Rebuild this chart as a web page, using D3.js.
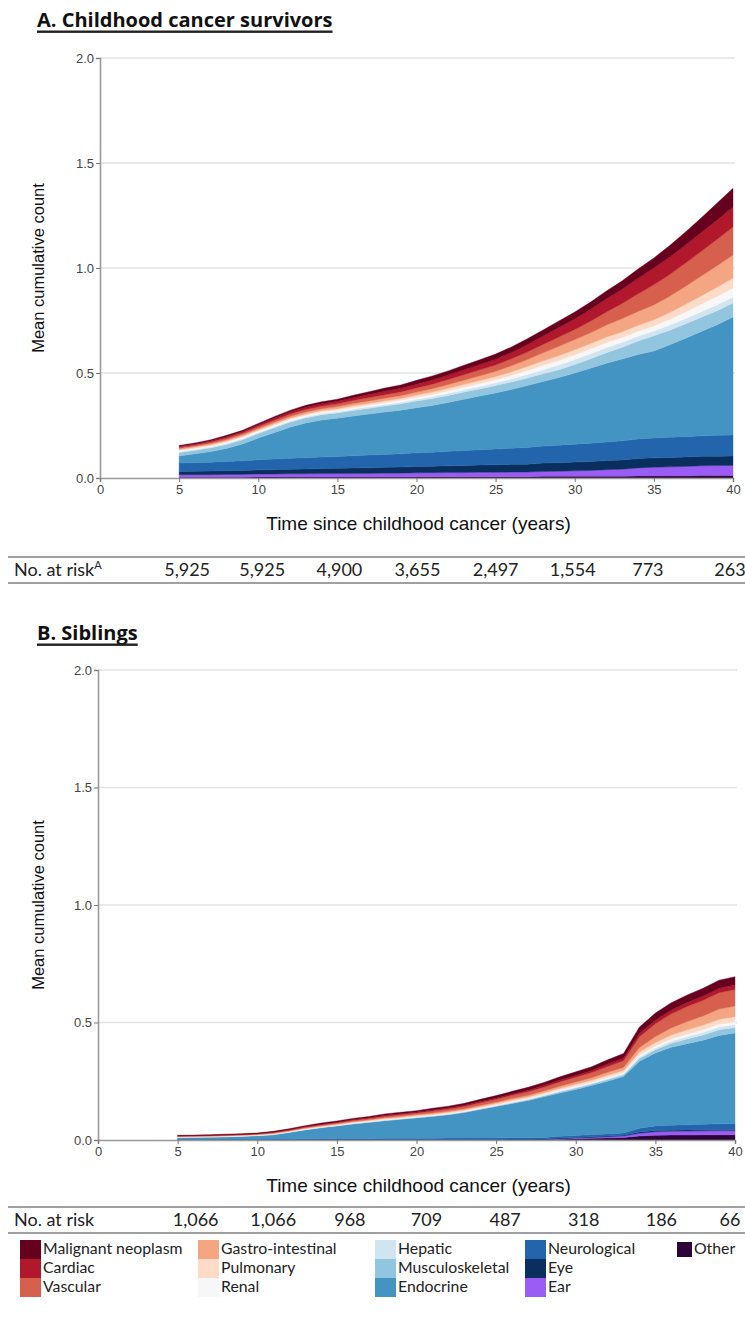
<!DOCTYPE html>
<html>
<head>
<meta charset="utf-8">
<script src="https://cdn.jsdelivr.net/npm/d3@7"></script>
<style>
  body { margin: 0; background: #fff; }
  svg { display: block; }
</style>
</head>
<body>
<svg id="chart" width="745" height="1324"></svg>
<script>
// Follow-up years (x values shared by every series)
const years = [5,6,7,8,9,10,11,12,13,14,15,16,17,18,19,20,21,22,23,24,25,26,27,28,29,30,31,32,33,34,35,36,37,38,39,40];

// Condition categories, stacked from the baseline upwards
const categories = ["Other","Ear","Eye","Neurological","Endocrine","Musculoskeletal","Hepatic","Renal","Pulmonary","Gastro-intestinal","Vascular","Cardiac","Malignant neoplasm"];

const categoryColors = ["#2e0438","#9a5cf4","#0a2f5e","#2265ad","#4393c3","#92c5de","#d1e5f0","#f7f7f7","#fddbc7","#f4a582","#d6604d","#b2182b","#67001f"];

const xTicks = [0,5,10,15,20,25,30,35,40];
const yTicks = [0,0.5,1.0,1.5,2.0];
const riskYears = [5,10,15,20,25,30,35,40];

// Survivors: mean cumulative count per category
const survOther     = [.004,.004,.004,.004,.004,.005,.005,.005,.005,.005,.005,.005,.005,.005,.005,.006,.006,.006,.006,.006,.006,.006,.006,.008,.008,.008,.008,.008,.008,.010,.010,.010,.010,.012,.012,.012];
const survEar       = [.012,.012,.012,.013,.013,.014,.014,.015,.015,.016,.016,.017,.017,.018,.018,.019,.019,.020,.020,.021,.021,.022,.022,.023,.024,.026,.028,.031,.034,.038,.041,.043,.045,.046,.047,.048];
const survEye       = [.015,.016,.017,.018,.019,.020,.021,.022,.023,.024,.025,.026,.027,.028,.029,.030,.031,.032,.034,.035,.036,.037,.038,.040,.041,.042,.043,.044,.044,.045,.045,.045,.045,.045,.045,.045];
const survNeuro     = [.040,.041,.042,.044,.046,.048,.050,.052,.054,.055,.056,.058,.060,.061,.063,.065,.067,.069,.071,.073,.075,.077,.079,.081,.083,.085,.087,.089,.091,.093,.095,.096,.097,.098,.099,.100];
const survEndocrine = [.034,.042,.051,.062,.080,.103,.126,.148,.165,.176,.183,.189,.196,.202,.208,.215,.222,.233,.244,.255,.267,.280,.295,.308,.322,.339,.357,.375,.390,.402,.414,.440,.468,.497,.527,.562];
const survMusculo   = [.016,.017,.018,.019,.020,.022,.023,.024,.024,.025,.025,.026,.027,.029,.030,.032,.033,.033,.034,.034,.035,.035,.036,.037,.038,.040,.045,.050,.056,.064,.072,.070,.069,.068,.067,.066];
const survHepatic   = [.004,.004,.004,.005,.005,.005,.005,.006,.006,.006,.006,.007,.007,.007,.008,.008,.009,.010,.011,.012,.013,.015,.017,.019,.022,.024,.024,.024,.023,.023,.023,.024,.025,.026,.028,.029];
const survRenal     = [.006,.006,.006,.006,.007,.007,.007,.007,.007,.007,.007,.008,.008,.009,.009,.010,.011,.012,.013,.014,.015,.017,.019,.021,.022,.023,.023,.024,.024,.024,.024,.028,.032,.036,.040,.043];
const survPulmonary = [.004,.004,.004,.005,.005,.005,.006,.006,.006,.007,.007,.008,.008,.009,.009,.010,.011,.012,.013,.014,.015,.017,.019,.021,.023,.024,.025,.026,.027,.028,.029,.032,.036,.040,.044,.047];
const survGI        = [.005,.005,.006,.006,.007,.007,.008,.008,.009,.009,.010,.011,.012,.012,.013,.014,.016,.018,.020,.023,.025,.029,.033,.038,.044,.048,.052,.057,.062,.066,.071,.078,.086,.094,.102,.110];
const survVascular  = [.006,.006,.007,.008,.008,.009,.010,.011,.012,.012,.013,.014,.016,.017,.018,.020,.022,.024,.026,.028,.030,.033,.036,.040,.044,.048,.055,.063,.072,.084,.096,.103,.111,.118,.126,.133];
const survCardiac   = [.005,.005,.006,.007,.007,.008,.009,.010,.011,.011,.012,.013,.015,.016,.017,.018,.020,.021,.023,.025,.027,.030,.035,.040,.046,.050,.056,.062,.068,.074,.080,.083,.086,.089,.092,.095];
const survMalignant = [.004,.005,.005,.006,.006,.007,.008,.008,.009,.010,.010,.012,.013,.015,.016,.018,.019,.020,.022,.023,.025,.026,.028,.029,.031,.033,.035,.037,.040,.044,.048,.055,.062,.070,.080,.090];

// Siblings: mean cumulative count per category
const sibOther     = [0,0,0,0,0,0,0,0,0,0,0,0,0,0,0,0,0,0,0,0,0,0,0,0,.003,.005,.007,.009,.011,.017,.020,.021,.021,.022,.022,.022];
const sibEar       = [0,0,0,0,0,0,0,0,0,0,0,0,0,0,0,0,0,0,0,0,0,0,0,.001,.002,.003,.004,.005,.006,.012,.015,.016,.017,.017,.018,.018];
const sibEye       = [.001,.001,.001,.001,.001,.001,.001,.001,.002,.002,.002,.002,.002,.002,.002,.002,.002,.002,.002,.002,.002,.003,.003,.003,.003,.003,.003,.003,.003,.005,.005,.005,.005,.005,.005,.005];
const sibNeuro     = [.002,.002,.002,.002,.002,.002,.003,.003,.003,.004,.004,.004,.004,.005,.005,.005,.005,.006,.006,.006,.006,.007,.007,.007,.008,.008,.009,.009,.010,.016,.020,.021,.022,.023,.024,.025];
const sibEndocrine = [.007,.008,.009,.010,.012,.015,.018,.028,.038,.046,.054,.062,.069,.075,.081,.087,.093,.099,.109,.122,.135,.145,.158,.173,.184,.196,.209,.224,.240,.285,.310,.332,.345,.358,.376,.385];
const sibMusculo   = [.001,.001,.001,.001,.001,.001,.001,.001,.001,.001,.001,.001,.001,.001,.001,.002,.002,.002,.002,.002,.002,.003,.003,.004,.005,.006,.006,.007,.007,.012,.014,.017,.020,.022,.024,.024];
const sibHepatic   = [.001,.001,.001,.001,.001,.001,.001,.001,.001,.001,.001,.002,.002,.002,.002,.002,.002,.002,.002,.002,.002,.003,.003,.003,.004,.004,.004,.005,.005,.007,.008,.009,.010,.011,.012,.012];
const sibRenal     = [.001,.001,.001,.001,.001,.001,.001,.001,.001,.001,.001,.002,.002,.002,.002,.002,.002,.002,.002,.002,.002,.003,.003,.003,.004,.004,.004,.005,.005,.007,.008,.009,.010,.011,.012,.012];
const sibPulmonary = [.001,.001,.001,.002,.002,.002,.002,.002,.003,.003,.003,.003,.003,.004,.004,.004,.004,.005,.005,.005,.006,.006,.006,.007,.007,.008,.008,.009,.009,.013,.015,.017,.019,.020,.021,.022];
const sibGI        = [.001,.001,.001,.001,.001,.001,.002,.002,.002,.003,.003,.003,.003,.004,.004,.004,.005,.005,.005,.006,.006,.007,.007,.008,.009,.010,.011,.012,.013,.020,.025,.030,.035,.039,.043,.045];
const sibVascular  = [.002,.002,.002,.002,.002,.002,.003,.003,.004,.004,.005,.005,.006,.006,.007,.007,.008,.009,.010,.011,.012,.013,.015,.016,.018,.020,.022,.025,.028,.045,.055,.060,.064,.067,.070,.070];
const sibCardiac   = [.001,.001,.001,.001,.001,.001,.002,.002,.002,.002,.002,.003,.003,.004,.004,.004,.005,.005,.005,.006,.006,.006,.007,.007,.008,.008,.009,.010,.011,.014,.015,.016,.017,.018,.019,.020];
const sibMalignant = [.002,.002,.002,.003,.003,.003,.003,.004,.004,.005,.005,.005,.005,.006,.006,.006,.007,.007,.008,.009,.010,.011,.012,.013,.014,.015,.016,.018,.020,.028,.030,.031,.032,.033,.034,.035];

// Number at risk at each five-year mark
const survAtRisk = ["5,925","5,925","4,900","3,655","2,497","1,554","773","263"];
const sibAtRisk  = ["1,066","1,066","968","709","487","318","186","66"];

const survSeries = [survOther, survEar, survEye, survNeuro, survEndocrine, survMusculo, survHepatic, survRenal, survPulmonary, survGI, survVascular, survCardiac, survMalignant];
const sibSeries  = [sibOther, sibEar, sibEye, sibNeuro, sibEndocrine, sibMusculo, sibHepatic, sibRenal, sibPulmonary, sibGI, sibVascular, sibCardiac, sibMalignant];

function toRows(series) {
  return years.map((yr, i) => {
    const row = { year: yr };
    categories.forEach((c, j) => { row[c] = series[j][i]; });
    return row;
  });
}

const svg = d3.select("#chart");
const color = d3.scaleOrdinal().domain(categories).range(categoryColors);
const axisFont = "'Liberation Sans', Arial, sans-serif";
const labelFont = "Lato, 'Open Sans', sans-serif";

function drawPanel(o) {
  const g = svg.append("g");

  // Panel heading, bold and underlined
  const title = g.append("text")
    .attr("x", 37).attr("y", o.titleY)
    .attr("font-family", "'Open Sans', sans-serif")
    .attr("font-weight", 700).attr("font-size", 20)
    .attr("fill", "#111").text(o.title);
  const tw = title.node().getComputedTextLength();
  g.append("rect").attr("x", 37).attr("y", o.titleY + 3.5).attr("width", tw).attr("height", 2.4).attr("fill", "#222");

  const x = d3.scaleLinear().domain([0, 40]).range([o.left, o.right]);
  const y = d3.scaleLinear().domain([0, 2]).range([o.bottom, o.top]);

  // Horizontal gridlines
  g.append("g").selectAll("line")
    .data(yTicks.filter(d => d > 0)).join("line")
    .attr("x1", o.left).attr("x2", o.right + 2)
    .attr("y1", d => y(d)).attr("y2", d => y(d))
    .attr("stroke", "#e3e3e3").attr("stroke-width", 1.3);

  // Stacked areas
  const stacked = d3.stack().keys(categories)(toRows(o.series));
  const area = d3.area()
    .x(d => x(d.data.year))
    .y0(d => y(d[0]))
    .y1(d => y(d[1]));
  g.append("g").selectAll("path")
    .data(stacked).join("path")
    .attr("d", area)
    .attr("fill", d => color(d.key))
    .attr("stroke", d => color(d.key))
    .attr("stroke-width", 0.4);

  // Axes
  const yAxis = g.append("g")
    .attr("transform", `translate(${o.left},0)`)
    .call(d3.axisLeft(y).tickValues(yTicks).tickFormat(d3.format(".1f")).tickSize(4).tickPadding(2));
  const xAxis = g.append("g")
    .attr("transform", `translate(0,${o.bottom})`)
    .call(d3.axisBottom(x).tickValues(xTicks).tickSize(4).tickPadding(3));
  [yAxis, xAxis].forEach(a => {
    a.select(".domain").attr("stroke", "#9a9a9a").attr("stroke-width", 1.6);
    a.selectAll(".tick line").attr("stroke", "#777");
    a.selectAll("text").attr("font-family", axisFont).attr("font-size", 13).attr("fill", "#444");
  });

  // Axis titles
  g.append("text")
    .attr("transform", `translate(44,${(o.top + o.bottom) / 2}) rotate(-90)`)
    .attr("text-anchor", "middle")
    .attr("font-family", axisFont).attr("font-size", 16.5).attr("fill", "#111")
    .text("Mean cumulative count");
  g.append("text")
    .attr("x", (o.left + o.right) / 2 + 2).attr("y", o.bottom + 52)
    .attr("text-anchor", "middle")
    .attr("font-family", axisFont).attr("font-size", 19).attr("fill", "#111")
    .text("Time since childhood cancer (years)");

  // Number-at-risk table
  const ty = o.tableY;
  g.append("rect").attr("x", 8).attr("y", ty).attr("width", 737).attr("height", 2).attr("fill", "#a0a0a0");
  g.append("rect").attr("x", 8).attr("y", ty + 26).attr("width", 737).attr("height", 2).attr("fill", "#a0a0a0");
  const lab = g.append("text").attr("x", 14).attr("y", ty + 20)
    .attr("font-family", labelFont).attr("font-size", 18).attr("fill", "#222")
    .text("No. at risk");
  if (o.note) lab.append("tspan").attr("font-size", 11).attr("dy", -7).text(o.note);
  g.append("g").selectAll("text")
    .data(o.atRisk).join("text")
    .attr("x", (d, i) => x(riskYears[i]) + o.riskShift[i])
    .attr("y", ty + 20)
    .attr("text-anchor", "middle")
    .attr("font-family", labelFont).attr("font-size", 18).attr("fill", "#222")
    .text(d => d);
}

drawPanel({
  title: "A. Childhood cancer survivors", titleY: 27,
  left: 100, right: 733, top: 58, bottom: 478, tableY: 556,
  series: survSeries, atRisk: survAtRisk, note: "A",
  riskShift: [8, 4, 2, 1, 0, -2, -6, -3]
});

drawPanel({
  title: "B. Siblings", titleY: 640,
  left: 98, right: 735, top: 670, bottom: 1140, tableY: 1206,
  series: sibSeries, atRisk: sibAtRisk, note: null,
  riskShift: [18, 16, 13, 10, 9, 8, 6, -5]
});

// Legend: five columns, three rows
const legendCols = [20, 198, 375, 525, 677];
const legendOrder = ["Malignant neoplasm","Cardiac","Vascular","Gastro-intestinal","Pulmonary","Renal","Hepatic","Musculoskeletal","Endocrine","Neurological","Eye","Ear","Other"];
const legend = svg.append("g");
legendOrder.forEach((name, i) => {
  const col = Math.floor(i / 3), row = i % 3;
  const lx = legendCols[col], ly = 1240 + row * 19;
  const small = name === "Other";
  legend.append("rect")
    .attr("x", lx).attr("y", small ? ly + 2 : ly)
    .attr("width", small ? 15 : 21).attr("height", small ? 15 : 19)
    .attr("fill", color(name));
  legend.append("text")
    .attr("x", lx + (small ? 17 : 23)).attr("y", ly + 14)
    .attr("font-family", labelFont).attr("font-size", 15.8).attr("fill", "#222")
    .text(name);
});
</script>
</body>
</html>
